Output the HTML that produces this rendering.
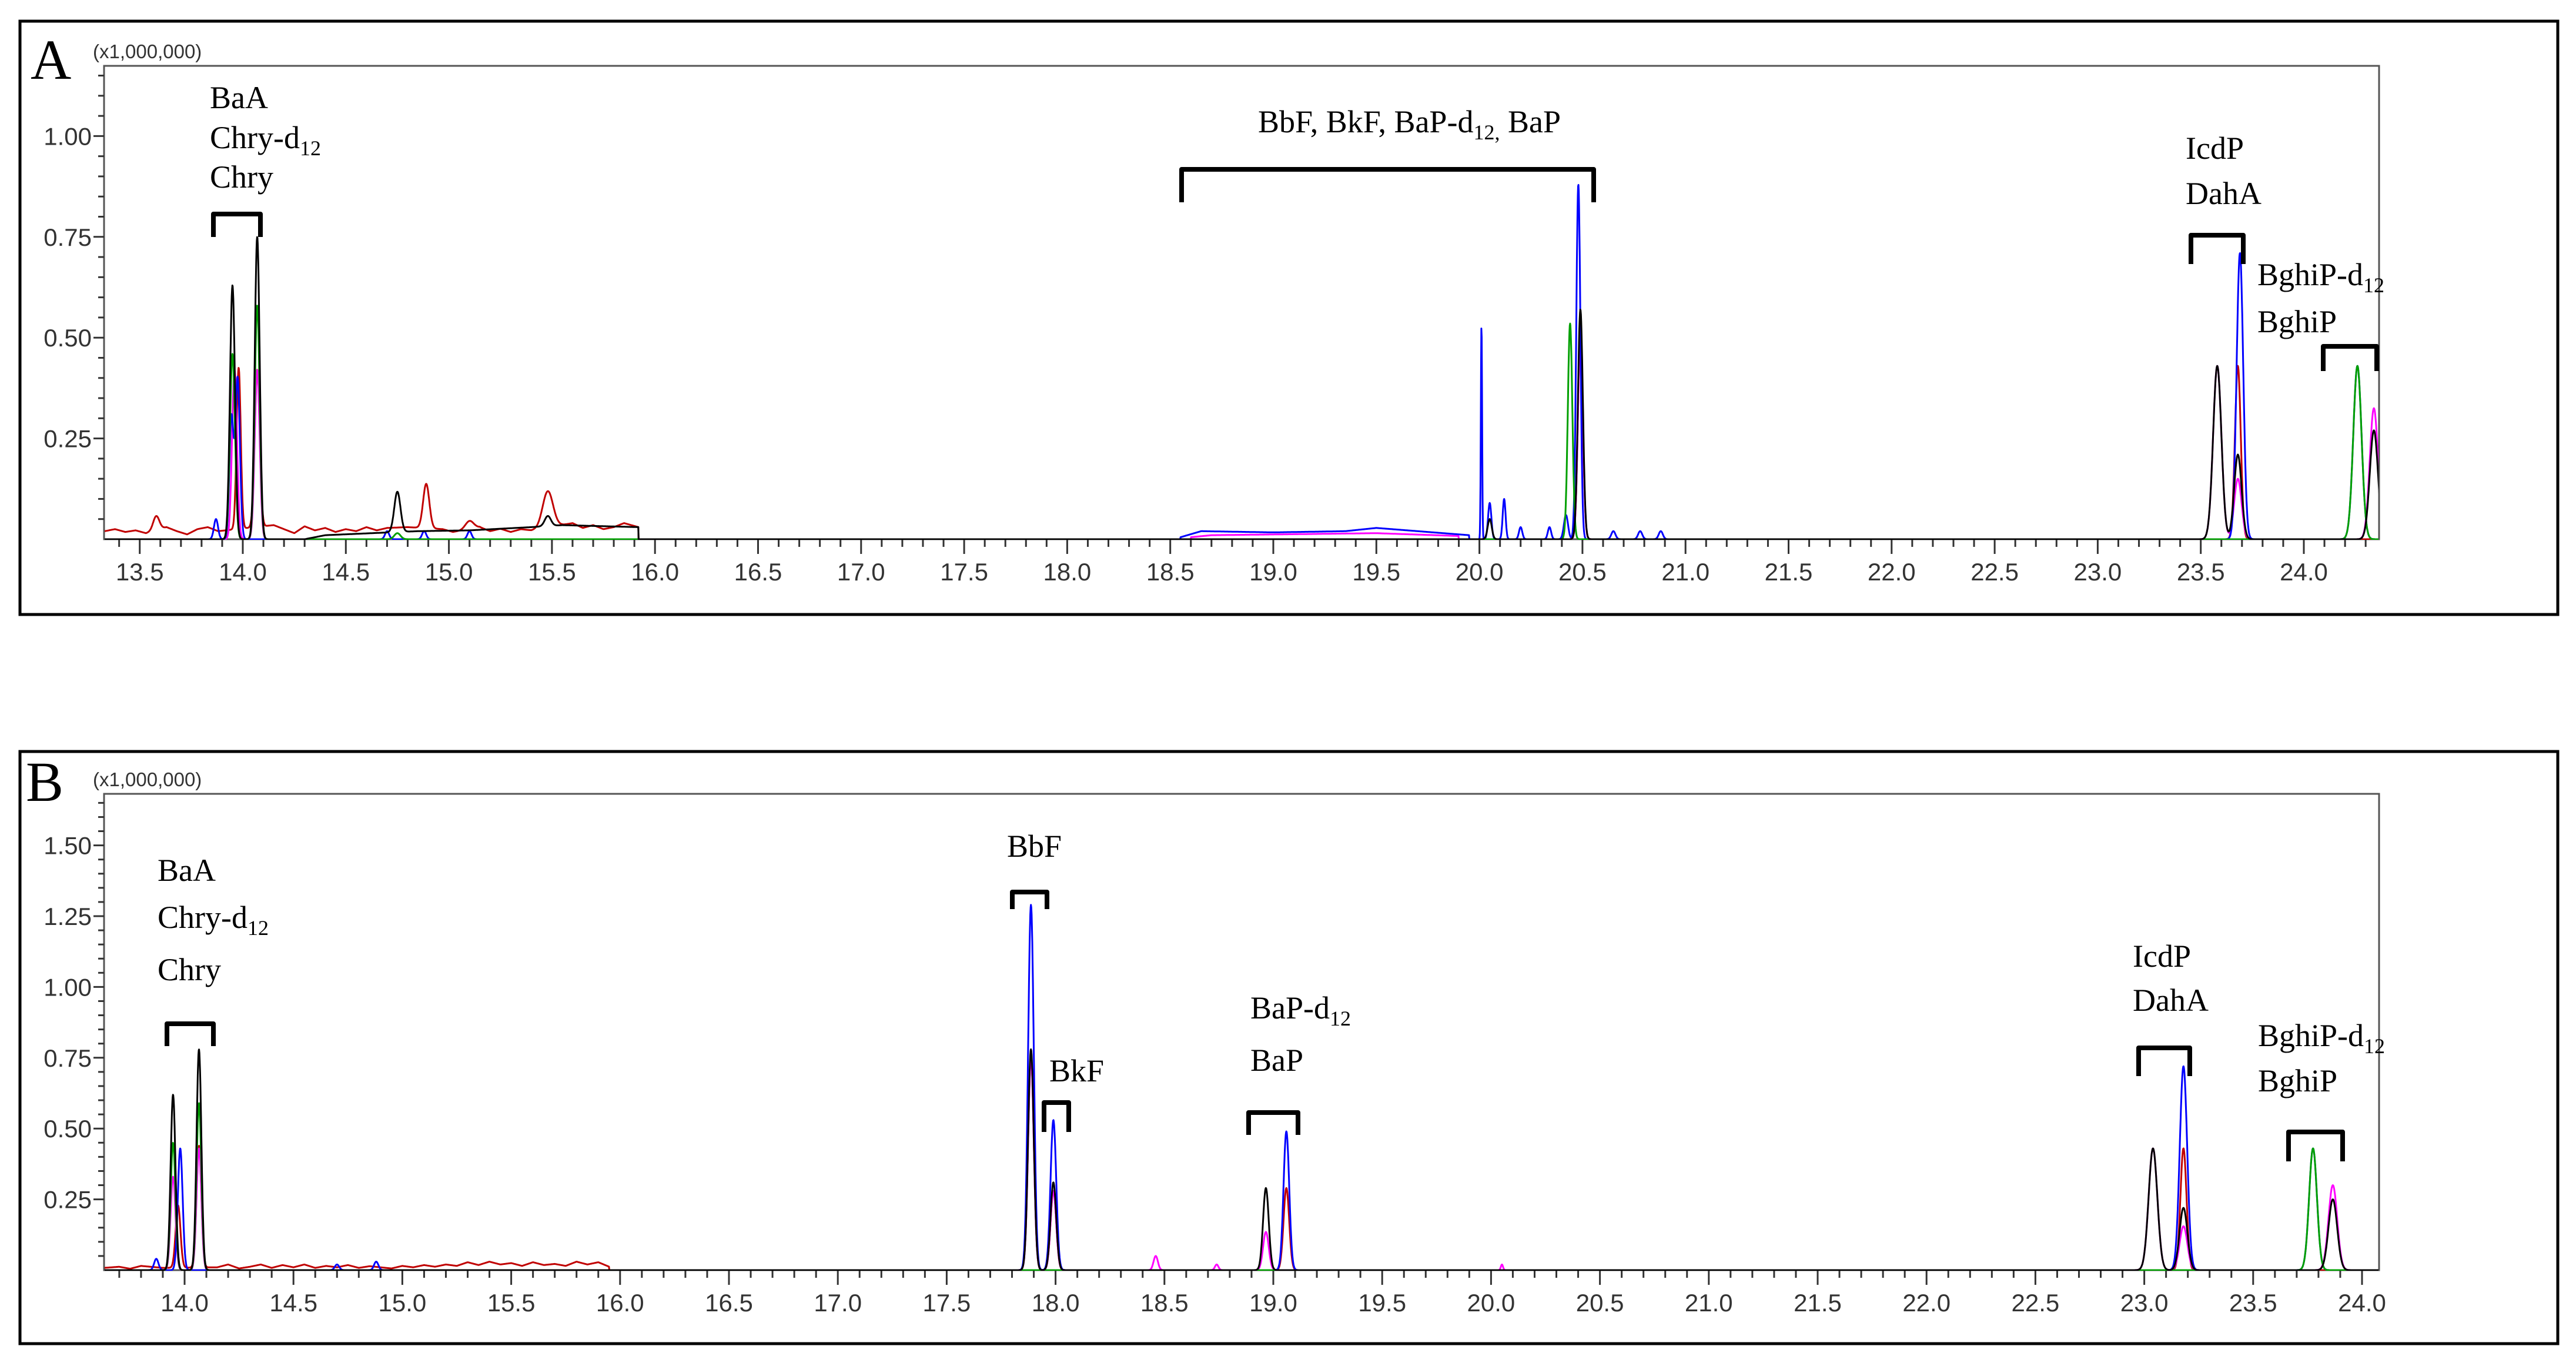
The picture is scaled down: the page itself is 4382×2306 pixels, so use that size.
<!DOCTYPE html>
<html><head><meta charset="utf-8"><style>
html,body{margin:0;padding:0;background:#fff;}
svg{display:block;}
.tk{font-family:"Liberation Sans",Arial,sans-serif;font-size:42px;fill:#333;}
.lb{font-family:"Liberation Serif","Times New Roman",serif;font-size:54px;fill:#000;}
.sub{font-size:36px;}
.pn{font-family:"Liberation Serif","Times New Roman",serif;font-size:96px;fill:#000;}
.br{fill:none;stroke:#000;stroke-width:8;stroke-linejoin:round;}
</style></head><body>
<svg id="chart" width="4382" height="2306" viewBox="0 0 4382 2306" xmlns="http://www.w3.org/2000/svg">
<rect x="0" y="0" width="4382" height="2306" fill="#fff"/>
<!-- Panel A -->
<g>
<rect x="34" y="36" width="4317" height="1009" fill="none" stroke="#000" stroke-width="5"/>
<text class="pn" x="52" y="134">A</text>
<text class="tk" x="158" y="99" style="font-size:33px">(x1,000,000)</text>
<rect x="177" y="112" width="3870" height="805" fill="none" stroke="#555" stroke-width="3"/>
<g id="axesA"></g>
<g id="tracesA" clip-path="url(#clipA)"></g>
<g>
<text class="lb" x="357" y="184">BaA</text>
<text class="lb" x="357" y="252">Chry-d<tspan class="sub" dy="12">12</tspan></text>
<text class="lb" x="357" y="319">Chry</text>
<path class="br" d="M363,403 V364 H443 V403"/>
<text class="lb" x="2140" y="225">BbF, BkF, BaP-d<tspan class="sub" dy="12">12,</tspan><tspan dy="-12"> BaP</tspan></text>
<path class="br" d="M2010,344 V288 H2711 V344"/>
<text class="lb" x="3718" y="270">IcdP</text>
<text class="lb" x="3718" y="347">DahA</text>
<path class="br" d="M3727,449 V400 H3816 V449"/>
<text class="lb" x="3840" y="485">BghiP-d<tspan class="sub" dy="12">12</tspan></text>
<text class="lb" x="3840" y="565">BghiP</text>
<path class="br" d="M3952,631 V589 H4043 V631"/>
</g>
</g>
<!-- Panel B -->
<g>
<rect x="34" y="1278" width="4317" height="1007" fill="none" stroke="#000" stroke-width="5"/>
<text class="pn" x="44" y="1362">B</text>
<text class="tk" x="158" y="1337" style="font-size:33px">(x1,000,000)</text>
<rect x="177" y="1350" width="3870" height="810" fill="none" stroke="#555" stroke-width="3"/>
<g id="axesB"></g>
<g id="tracesB" clip-path="url(#clipB)"></g>
<g>
<text class="lb" x="268" y="1498">BaA</text>
<text class="lb" x="268" y="1578">Chry-d<tspan class="sub" dy="12">12</tspan></text>
<text class="lb" x="268" y="1667">Chry</text>
<path class="br" d="M284,1779 V1741 H363 V1779"/>
<text class="lb" x="1713" y="1457">BbF</text>
<path class="br" d="M1722,1546 V1517 H1781 V1546"/>
<text class="lb" x="1785" y="1839">BkF</text>
<path class="br" d="M1776,1925 V1875 H1818 V1925"/>
<text class="lb" x="2127" y="1732">BaP-d<tspan class="sub" dy="12">12</tspan></text>
<text class="lb" x="2127" y="1821">BaP</text>
<path class="br" d="M2124,1930 V1892 H2208 V1930"/>
<text class="lb" x="3628" y="1644">IcdP</text>
<text class="lb" x="3628" y="1719">DahA</text>
<path class="br" d="M3638,1830 V1782 H3725 V1830"/>
<text class="lb" x="3841" y="1779">BghiP-d<tspan class="sub" dy="12">12</tspan></text>
<text class="lb" x="3841" y="1856">BghiP</text>
<path class="br" d="M3893,1975 V1925 H3985 V1975"/>
</g>
</g>
<defs>
<clipPath id="clipA"><rect x="178" y="112" width="3868" height="806"/></clipPath>
<clipPath id="clipB"><rect x="178" y="1350" width="3868" height="811"/></clipPath>
</defs>
</svg>
<script>
// ---- data: peaks [retention time, intensity (x1e6), width sigma] ----
const peaksA_black = [[13.95,0.63,0.012],[14.07,0.75,0.012],[14.75,0.10,0.015],[15.48,0.025,0.015],[20.05,0.05,0.01],[20.49,0.57,0.012],[23.58,0.43,0.02],[23.68,0.21,0.018],[24.34,0.27,0.02]];
const peaksA_green = [[13.95,0.46,0.012],[14.07,0.58,0.012],[14.75,0.015,0.015],[20.44,0.535,0.011],[24.26,0.43,0.02]];
const peaksA_blue = [[13.87,0.05,0.01],[13.945,0.30,0.01],[13.975,0.40,0.011],[14.7,0.02,0.01],[14.88,0.02,0.01],[15.1,0.02,0.01],[20.01,0.53,0.003],[20.05,0.09,0.008],[20.12,0.10,0.007],[20.2,0.03,0.008],[20.34,0.03,0.008],[20.42,0.06,0.01],[20.48,0.88,0.01],[20.65,0.02,0.01],[20.78,0.02,0.01],[20.88,0.02,0.01],[23.69,0.71,0.016],[24.26,0.43,0.02]];
const peaksA_magenta = [[13.96,0.42,0.012],[14.07,0.42,0.012],[20.49,0.50,0.012],[23.58,0.43,0.02],[23.68,0.15,0.018],[24.34,0.325,0.02]];
const peaksA_red = [[13.58,0.035,0.015],[13.98,0.40,0.01],[14.07,0.39,0.012],[14.89,0.11,0.015],[15.1,0.02,0.02],[15.48,0.09,0.025],[20.49,0.5,0.012],[23.68,0.43,0.014]];
const peaksB_black = [[13.947,0.62,0.011],[14.066,0.78,0.011],[17.887,0.78,0.013],[17.99,0.31,0.013],[18.966,0.29,0.013],[23.04,0.43,0.02],[23.18,0.22,0.018],[23.866,0.25,0.02]];
const peaksB_green = [[13.947,0.45,0.011],[14.066,0.59,0.011],[23.775,0.43,0.018]];
const peaksB_blue = [[13.87,0.04,0.01],[13.98,0.43,0.011],[14.7,0.02,0.01],[14.88,0.03,0.01],[17.887,1.29,0.013],[17.99,0.53,0.013],[19.06,0.49,0.013],[23.18,0.72,0.017],[23.775,0.43,0.018]];
const peaksB_magenta = [[13.947,0.33,0.011],[14.066,0.43,0.011],[17.887,0.75,0.013],[17.99,0.28,0.013],[18.46,0.05,0.01],[18.74,0.02,0.008],[18.966,0.135,0.013],[20.05,0.02,0.005],[23.04,0.43,0.02],[23.18,0.155,0.018],[23.866,0.30,0.02]];
const peaksB_red = [[13.97,0.22,0.011],[14.066,0.43,0.011],[17.887,0.76,0.013],[17.99,0.28,0.013],[19.06,0.29,0.013],[23.18,0.43,0.014]];
// ---- baselines [time, intensity] ----
const baseA_red = [[13.33,0.02],[13.38,0.025],[13.43,0.018],[13.48,0.022],[13.53,0.015],[13.63,0.03],[13.68,0.02],[13.73,0.012],[13.78,0.025],[13.83,0.03],[13.88,0.02],[14.15,0.035],[14.2,0.025],[14.25,0.015],[14.3,0.032],[14.35,0.022],[14.4,0.028],[14.45,0.018],[14.5,0.025],[14.55,0.02],[14.6,0.03],[14.65,0.022],[14.7,0.028],[14.8,0.03],[14.97,0.025],[15.02,0.018],[15.15,0.03],[15.2,0.02],[15.25,0.026],[15.3,0.018],[15.35,0.025],[15.4,0.022],[15.6,0.04],[15.65,0.028],[15.7,0.035],[15.75,0.025],[15.8,0.03],[15.85,0.04],[15.92,0.03]];
const baseA_black = [[14.3,0],[14.4,0.01],[14.85,0.02],[15.1,0.022],[15.4,0.03],[15.55,0.035],[15.92,0.03]];
const baseA_blue = [[18.55,0.005],[18.65,0.02],[19.0,0.017],[19.35,0.02],[19.5,0.028],[19.7,0.02],[19.95,0.01]];
const baseA_magenta = [[18.6,0.005],[18.7,0.01],[19.5,0.015],[19.9,0.008]];
const baseB_red = [[13.63,0.008],[13.7,0.012],[13.75,0.005],[13.8,0.015],[13.9,0.008],[14.15,0.01],[14.2,0.02],[14.25,0.006],[14.3,0.012],[14.35,0.02],[14.4,0.008],[14.45,0.018],[14.5,0.01],[14.55,0.02],[14.6,0.008],[14.65,0.015],[14.7,0.01],[14.75,0.018],[14.8,0.008],[14.85,0.014],[14.9,0.01],[14.95,0.006],[15.0,0.015],[15.05,0.01],[15.1,0.018],[15.15,0.012],[15.2,0.02],[15.25,0.015],[15.3,0.028],[15.35,0.018],[15.4,0.03],[15.45,0.02],[15.5,0.025],[15.55,0.015],[15.6,0.028],[15.65,0.018],[15.7,0.022],[15.75,0.015],[15.8,0.03],[15.85,0.02],[15.9,0.028],[15.95,0.012]];
const yTicksA = ["0.25","0.50","0.75","1.00"];
const yTicksB = ["0.25","0.50","0.75","1.00","1.25","1.50"];

const NS='http://www.w3.org/2000/svg';
const xA = t => 413 + (t-14)*350.6, yA = v => 917 - v*685.6;
const xB = t => 314 + (t-14)*370.4, yB = v => 2160 - v*481.6;
function interp(base,t){
  if(!base||!base.length) return 0;
  if(t<base[0][0]||t>base[base.length-1][0]) return 0;
  for(let i=1;i<base.length;i++){ if(t<=base[i][0]){ const a=base[i-1],b=base[i]; return a[1]+(b[1]-a[1])*(t-a[0])/(b[0]-a[0]); } }
  return 0;
}
function signal(peaks,base,t){
  let v=interp(base,t);
  for(const p of peaks){ const d=(t-p[0])/p[2]; if(Math.abs(d)<6) v+=p[1]*Math.exp(-0.5*d*d); }
  return v;
}
function drawTrace(g,peaks,base,color,xs,ys,t0,t1,name){
  let d='';
  for(let t=t0;t<=t1;t+=0.0015){ const v=signal(peaks,base,t); d+=(d?'L':'M')+xs(t).toFixed(1)+','+ys(v).toFixed(1); }
  const p=document.createElementNS(NS,'path');
  p.setAttribute('d',d);p.setAttribute('fill','none');p.setAttribute('stroke',color);p.setAttribute('stroke-width','3');p.setAttribute('stroke-linejoin','round');
  
  
  g.appendChild(p);
}
function line(g,x1,y1,x2,y2,w,c){const l=document.createElementNS(NS,'line');l.setAttribute('x1',x1);l.setAttribute('y1',y1);l.setAttribute('x2',x2);l.setAttribute('y2',y2);l.setAttribute('stroke',c||'#333');l.setAttribute('stroke-width',w||3);g.appendChild(l);return l;}
function txt(g,x,y,s,anchor){const t=document.createElementNS(NS,'text');t.setAttribute('x',x);t.setAttribute('y',y);t.setAttribute('class','tk');t.setAttribute('text-anchor',anchor);t.textContent=s;g.appendChild(t);return t;}
function axes(g,xs,ys,left,bottom,top,t0,t1,yTicks,vmax){
  for(let k=Math.ceil(t0*10);k<=Math.floor(t1*10);k++){
    const t=k/10, major=(k%5===0), x=xs(t);
    const tl=line(g,x,bottom,x,bottom+(major?25:13),3);
    
    
    if(major){ const lbl=txt(g,x,bottom+70,t.toFixed(1),'middle');
      
       }
  }
  for(let k=1;k*0.05<=vmax;k++){
    const y=ys(k*0.05), major=(k%5===0);
    const tl=line(g,left-(major?18:10),y,left,y,3);
    
    
  }
  yTicks.forEach(s=>{ const lbl=txt(g,left-21,ys(parseFloat(s))+15,s,'end');
    
     });
}
const gA=document.getElementById('tracesA'), gB=document.getElementById('tracesB');
axes(document.getElementById('axesA'),xA,yA,177,917,112,13.33,24.37,yTicksA,1.17);
axes(document.getElementById('axesB'),xB,yB,177,2160,1350,13.63,24.08,yTicksB,1.68);
drawTrace(gA,peaksA_red,baseA_red,'#c00000',xA,yA,13.33,24.37,'trace-a-red');
drawTrace(gA,peaksA_magenta,baseA_magenta,'#ff00ff',xA,yA,13.33,24.37,'trace-a-magenta');
drawTrace(gA,peaksA_blue,baseA_blue,'#0000ff',xA,yA,13.33,24.37,'trace-a-blue');
drawTrace(gA,peaksA_green,null,'#00a000',xA,yA,13.33,24.37,'trace-a-green');
drawTrace(gA,peaksA_black,baseA_black,'#000000',xA,yA,13.33,24.37,'trace-a-black');
drawTrace(gB,peaksB_red,baseB_red,'#c00000',xB,yB,13.63,24.08,'trace-b-red');
drawTrace(gB,peaksB_magenta,null,'#ff00ff',xB,yB,13.63,24.08,'trace-b-magenta');
drawTrace(gB,peaksB_blue,null,'#0000ff',xB,yB,13.63,24.08,'trace-b-blue');
drawTrace(gB,peaksB_green,null,'#00a000',xB,yB,13.63,24.08,'trace-b-green');
drawTrace(gB,peaksB_black,null,'#000000',xB,yB,13.63,24.08,'trace-b-black');
</script>
</body></html>
